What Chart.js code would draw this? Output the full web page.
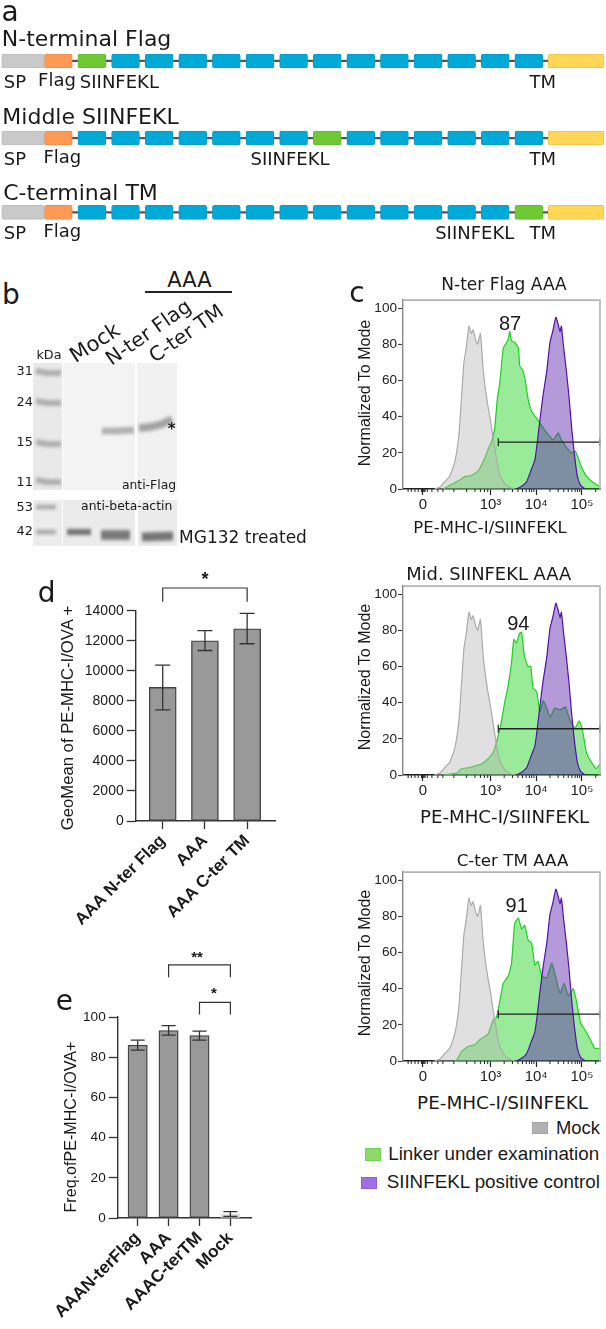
<!DOCTYPE html>
<html>
<head>
<meta charset="utf-8">
<title>Linker constructs</title>
<script src="https://cdn.jsdelivr.net/npm/chart.js@4"></script>
<style>
  html, body { margin: 0; padding: 0; background: #fff; }
  #page { position: relative; width: 606px; height: 1329px; overflow: hidden; }
  #page canvas { position: absolute; }
  .txt { position: absolute; white-space: nowrap; line-height: 1; color: #1a1a1a; transform-origin: center; }
  .box { position: absolute; }
</style>
</head>
<body>
<div id="page"></div>
<script>
// ---- panel a: constructs, in units of one linker repeat
const rowTitles = ['N-terminal Flag', 'Middle SIINFEKL', 'C-terminal TM'];
const rowPositions = [0, 1.018, 2];
const siinfeklSlot = [0, 7, 13];
const linkerSlots = [0, 1, 2, 3, 4, 5, 6, 7, 8, 9, 10, 11, 12, 13];
const linkerLength = 0.83;
const spanSP = [-2.27, -1];
const spanFlag = [-1, -0.17];
const spanTM = [13.99, 15.65];

// ---- panel b: blot, lanes and bands in gel coordinates
const ladderBandY = [372, 402, 443, 481];
const ladderLowerBandY = [507, 532];
const flagBandN = [[102, 431], [115, 431], [134, 430]];
const flagBandC = [[139, 428], [150, 427], [162, 424], [172, 419]];
const actinMock = [[67, 532], [91, 532]];
const actinNter = [[101, 535], [130, 535]];
const actinCter = [[142, 537], [173, 536]];

// ---- panel c: histograms, x is display channel (3 = 10^3, 4 = 10^4, 5 = 10^5)
const flowTicks = [1.525, 3, 4, 5];
const flowTickLabels = ['0', '10\u00B3', '10\u2074', '10\u2075'];
const flowMinorTicks = [1.2, 1.27, 1.35, 1.42, 1.49, 1.51, 1.53, 1.55, 1.57, 1.62, 1.72, 1.85, 1.96, 2.2, 2.48, 2.66, 2.78, 2.87, 2.94,
  3.3, 3.48, 3.6, 3.7, 3.78, 3.85, 3.9, 3.95, 4.3, 4.48, 4.6, 4.7, 4.78, 4.85, 4.9, 4.95, 5.3];
const flowYTicks = [0, 20, 40, 60, 80, 100];

const mockX = [1.78, 1.89, 2.0, 2.11, 2.22, 2.31, 2.365, 2.42, 2.47, 2.53, 2.58, 2.62, 2.68, 2.72, 2.78, 2.84, 2.89, 2.95, 3.0, 3.06, 3.13, 3.2, 3.31, 3.42, 3.53];
const mockY = [0, 1, 4, 7, 15, 30, 50, 70, 78, 90, 86, 88, 82, 80, 86, 66, 55, 45, 38, 28, 17, 8, 3, 1, 0];

const controlX = [3.57, 3.68, 3.79, 3.88, 3.97, 4.02, 4.08, 4.15, 4.23, 4.3, 4.36, 4.43, 4.48, 4.52, 4.55, 4.6, 4.66, 4.72, 4.77, 4.83, 4.9, 4.97, 5.07];
const controlY = [0, 1.5, 4, 10, 16, 25, 38, 52, 65, 81, 87, 95, 91, 87, 90, 78, 65, 50, 35, 20, 7, 2, 0];

const linkerNterX = [1.96, 2.11, 2.22, 2.33, 2.44, 2.51, 2.62, 2.73, 2.84, 2.95, 3.02, 3.09, 3.15, 3.2, 3.28, 3.33, 3.39, 3.42, 3.46, 3.53, 3.61, 3.64, 3.7, 3.76, 3.82, 3.9, 4.01, 4.12, 4.23, 4.3, 4.37, 4.48, 4.55, 4.66, 4.77, 4.85, 4.92, 4.99, 5.1, 5.25, 5.38];
const linkerNterY = [0, 2, 3.5, 5, 7, 7, 8, 10, 15, 22, 26, 33, 50, 58, 78, 80, 83, 87, 82, 81, 78, 68, 66, 60, 50, 43, 39, 35, 31, 29, 27, 31, 27, 23, 20, 21, 17, 12, 7, 3.5, 1.5];

const linkerMidX = [1.96, 2.26, 2.36, 2.51, 2.66, 2.8, 2.95, 3.07, 3.15, 3.22, 3.31, 3.39, 3.46, 3.51, 3.57, 3.63, 3.68, 3.74, 3.82, 3.88, 3.93, 4.01, 4.08, 4.15, 4.23, 4.3, 4.41, 4.52, 4.64, 4.74, 4.85, 4.94, 5.01, 5.1, 5.21, 5.31, 5.39];
const linkerMidY = [0, 1, 3.5, 4, 5, 6, 9, 13, 20, 27, 40, 50, 62, 75, 73, 78, 79, 66, 60, 60, 48, 46, 35, 41, 37, 32, 37, 36, 37.5, 30, 26, 30, 25, 12, 7, 3.5, 6];

const linkerCterX = [2.22, 2.29, 2.36, 2.51, 2.66, 2.75, 2.84, 2.95, 3.02, 3.07, 3.13, 3.19, 3.28, 3.39, 3.46, 3.53, 3.61, 3.68, 3.75, 3.82, 3.9, 3.97, 4.04, 4.12, 4.23, 4.34, 4.41, 4.52, 4.61, 4.7, 4.81, 4.88, 4.97, 5.07, 5.18, 5.28, 5.38];
const linkerCterY = [0, 1.5, 5, 8, 9, 11.5, 13, 15, 20, 23, 24, 31, 43, 47, 54, 76, 79, 73, 75, 67, 65, 53, 55, 47, 46, 54, 48, 37.5, 43, 36, 40, 33, 21, 17, 12, 7, 7];

const gateX = [3.17, 5.39];
const gateLevels = [25.9, 25.6, 25.9];

// ---- panel d
const geoLabels = ['AAA N-ter Flag', 'AAA', 'AAA C-ter TM'];
const geoValues = [8900, 12000, 12800];
const geoLow = [7400, 11350, 11800];
const geoHigh = [10380, 12680, 13820];
const geoBracketX = [0, 0, 2, 2];
const geoBracketY = [14600, 15510, 15510, 14600];

// ---- panel e
const freqLabels = ['AAAN-terFlag', 'AAA', 'AAAC-terTM', 'Mock'];
const freqValues = [86, 93.3, 90.8, 2];
const freqLow = [83.5, 91, 88.5, 0.8];
const freqHigh = [88.5, 95.7, 93, 3.2];
const freqBracketLongX = [1, 1, 3, 3];
const freqBracketLongY = [119.8, 125.9, 125.9, 119.8];
const freqBracketShortX = [2, 2, 3, 3];
const freqBracketShortY = [101.3, 107.3, 107.3, 101.3];

const SANS = '"Liberation Sans", Arial, sans-serif';
const DEJAVU = '"DejaVu Sans", sans-serif';
const INK = '#333';
const page = document.getElementById('page');

Chart.defaults.animation = false;
Chart.defaults.responsive = false;
Chart.defaults.maintainAspectRatio = false;
Chart.defaults.plugins.legend.display = false;
Chart.defaults.plugins.tooltip.enabled = false;
Chart.defaults.events = [];

const zip = (xs, ys) => xs.map((x, i) => ({ x, y: ys[i] }));

// free text, placed by its centre
function label(text, cx, cy, size, opts = {}) {
  const el = document.createElement('div');
  el.className = 'txt';
  el.textContent = text;
  el.style.left = cx + 'px';
  el.style.top = cy + 'px';
  el.style.fontSize = size + 'px';
  el.style.fontFamily = opts.family || DEJAVU;
  if (opts.weight) el.style.fontWeight = opts.weight;
  el.style.transform = `translate(-50%, -50%) rotate(${opts.rot || 0}deg)`;
  page.appendChild(el);
}

function box(x, y, w, h, style) {
  const el = document.createElement('div');
  el.className = 'box';
  el.style.cssText = `left:${x}px;top:${y}px;width:${w}px;height:${h}px;${style}`;
  page.appendChild(el);
}

function addCanvas(x, y, w, h) {
  const c = document.createElement('canvas');
  c.width = w;
  c.height = h;
  c.style.left = x + 'px';
  c.style.top = y + 'px';
  page.appendChild(c);
  return c;
}

/* ---------- panel a ---------- */
const rowSpans = (pick) => rowPositions.map((y, r) => ({ x: pick(r), y }));
function blockDataset(data, color, border) {
  return { data, backgroundColor: color, borderColor: border, borderWidth: 1, borderRadius: 2, borderSkipped: false, barThickness: 14, grouped: false };
}
const linkerBlocks = [];
const siinfeklBlocks = [];
rowPositions.forEach((y, r) => {
  linkerSlots.forEach(s => {
    const item = { x: [s, s + linkerLength], y };
    (s === siinfeklSlot[r] ? siinfeklBlocks : linkerBlocks).push(item);
  });
});
new Chart(addCanvas(0, 0, 606, 260), {
  type: 'bar',
  data: {
    datasets: [
      blockDataset(rowSpans(() => spanSP), '#c9c9c9', '#bdbdbd'),
      blockDataset(rowSpans(() => spanFlag), '#ff9a55', '#ec8c4c'),
      blockDataset(linkerBlocks, '#00a9d6', '#0a9cc4'),
      blockDataset(siinfeklBlocks, '#6fc935', '#66b933'),
      blockDataset(rowSpans(() => spanTM), '#ffd655', '#e8c452'),
      { data: rowSpans(() => [spanFlag[1], spanTM[0]]), backgroundColor: '#555', barThickness: 1.6, grouped: false }
    ]
  },
  options: {
    indexAxis: 'y',
    layout: { autoPadding: false },
    scales: {
      x: { type: 'linear', min: -2.32, max: 15.71, display: false },
      y: { type: 'linear', min: -0.806, max: 2.63, reverse: true, display: false, offset: false }
    }
  }
});

label('a', 10, 12, 28);
label(rowTitles[0], 86.6, 39, 22);
label(rowTitles[1], 90.5, 117, 22);
label(rowTitles[2], 80.5, 193, 22);
[[82, 57, 119.4], [159, 62.4, 290], [233, 62.4, 474.7]].forEach(([y, flagX, siinX]) => {
  label('SP', 15, y, 18);
  label('Flag', flagX, y - 2, 18);
  label('SIINFEKL', siinX, y, 18);
  label('TM', 542.7, y, 18);
});

/* ---------- panel b ---------- */
box(33, 363, 29, 127, 'background:#e9e9e9');
box(63, 363, 72, 127, 'background:#f3f3f3');
box(137, 363, 40, 127, 'background:#f1f1f1');
box(33, 500, 29, 46, 'background:#ececec');
box(63, 500, 72, 46, 'background:#ebebeb');
box(137, 500, 40, 46, 'background:#ebebeb');

function bandDatasets(points, width, color) {
  const data = points.map(([x, y]) => ({ x, y }));
  return [
    { data, borderColor: color, borderWidth: width, pointRadius: 0, tension: 0.3, borderCapStyle: 'butt', order: 1 },
    { data, borderColor: color, borderWidth: width + 4, pointRadius: 0, tension: 0.3, borderCapStyle: 'butt', order: 2 }
  ];
}
const blotBands = [];
ladderBandY.forEach(y => blotBands.push(...bandDatasets([[36, y - 1], [48, y + 1], [61, y + 1]], 3, 'rgba(125,125,125,0.36)')));
ladderLowerBandY.forEach(y => blotBands.push(...bandDatasets([[36, y], [56, y]], 2, 'rgba(120,120,120,0.36)')));
blotBands.push(...bandDatasets(flagBandN, 4, 'rgba(125,125,125,0.36)'));
blotBands.push(...bandDatasets(flagBandC, 5, 'rgba(115,115,115,0.4)'));
blotBands.push(...bandDatasets(actinMock, 3, 'rgba(85,85,85,0.6)'));
blotBands.push(...bandDatasets(actinNter, 7, 'rgba(85,85,85,0.52)'));
blotBands.push(...bandDatasets(actinCter, 6, 'rgba(85,85,85,0.55)'));

const blotCanvas = addCanvas(30, 360, 150, 190);
blotCanvas.style.filter = 'blur(1.8px)';
new Chart(blotCanvas, {
  type: 'line',
  data: { datasets: blotBands },
  options: {
    layout: { autoPadding: false },
    scales: {
      x: { type: 'linear', min: 30, max: 180, display: false },
      y: { type: 'linear', min: 360, max: 550, reverse: true, display: false }
    }
  }
});
// white lane gaps stay clean over the blurred bands
box(62, 363, 1, 127, 'background:#fff');
box(135, 363, 2, 127, 'background:#fff');
box(135.5, 500, 2, 46, 'background:#fff');

label('b', 11, 295, 28);
label('AAA', 189.5, 280, 21);
box(145, 291, 87, 1.5, 'background:#222');
label('Mock', 95, 342.5, 21, { rot: -33 });
label('N-ter Flag', 148, 331.5, 20, { rot: -35 });
label('C-ter TM', 185.7, 333.3, 20, { rot: -35 });
label('kDa', 49, 355, 12.8);
[['31', 371], ['24', 401.7], ['15', 441.7], ['11', 481.7], ['53', 507], ['42', 530.7]].forEach(([t, y]) => label(t, 24.7, y, 12.8));
label('*', 171.7, 429, 15, { weight: 'bold' });
label('anti-Flag', 149, 485, 12.4);
label('anti-beta-actin', 126.7, 506, 12.4);
label('MG132 treated', 243, 536.7, 17);

/* ---------- panel c ---------- */
const flowPlugin = {
  id: 'flowFrame',
  afterDraw(chart) {
    const { ctx, chartArea: a, scales: { x } } = chart;
    ctx.save();
    ctx.strokeStyle = '#b4b4b4';
    ctx.lineWidth = 1.6;
    ctx.beginPath();
    ctx.moveTo(a.left, a.top);
    ctx.lineTo(a.right, a.top);
    ctx.lineTo(a.right, a.bottom);
    ctx.stroke();
    ctx.strokeStyle = '#222';
    ctx.lineWidth = 1;
    ctx.beginPath();
    flowMinorTicks.forEach(v => {
      const px = x.getPixelForValue(v);
      ctx.moveTo(px, a.bottom);
      ctx.lineTo(px, a.bottom + 3);
    });
    ctx.stroke();
    ctx.restore();
  }
};

function flowDataset(xs, ys, line, fill) {
  return { data: zip(xs, ys), borderColor: line, backgroundColor: fill, fill: 'origin', borderWidth: 1.2, pointRadius: 0, tension: 0.15 };
}

function flowPanel(top, greenX, greenY, gate) {
  const frameH = 198;
  const canvasTop = top - 6;
  new Chart(addCanvas(360, canvasTop, 246, frameH + 30), {
    type: 'line',
    data: {
      datasets: [
        { data: zip(gateX, [gate, gate]), borderColor: '#222', borderWidth: 1.4, pointStyle: 'line', pointRotation: 90, pointRadius: 4, pointBorderWidth: 1.2, pointBorderColor: '#222', fill: false, clip: false },
        flowDataset(controlX, controlY, '#4f12a8', 'rgba(95,40,175,0.47)'),
        flowDataset(mockX, mockY, '#ababab', 'rgba(180,180,180,0.42)'),
        flowDataset(greenX, greenY, '#1fcf1f', 'rgba(0,205,0,0.4)')
      ]
    },
    options: {
      layout: { autoPadding: false, padding: { top: 6, right: 6 } },
      scales: {
        x: {
          type: 'linear', min: 1.088, max: 5.394,
          afterBuildTicks: axis => { axis.ticks = flowTicks.map(value => ({ value })); },
          afterFit: s => { s.height = 30; },
          border: { color: '#222', width: 1.4 },
          grid: { drawOnChartArea: false, tickLength: 6, tickColor: '#222', tickWidth: 1.2 },
          ticks: {
            autoSkip: false, maxRotation: 0, padding: 1, color: '#222',
            font: { family: SANS, size: 15 },
            callback: (v, i) => flowTickLabels[i]
          }
        },
        y: {
          type: 'linear', min: 0, max: 104.4,
          afterBuildTicks: axis => { axis.ticks = flowYTicks.map(value => ({ value })); },
          afterFit: s => { s.width = 43; },
          border: { color: '#888', width: 1.4 },
          grid: { drawOnChartArea: false, tickLength: 5, tickColor: '#444', tickWidth: 1.2 },
          ticks: { padding: 1, color: '#222', font: { family: SANS, size: 13.6 } }
        }
      }
    },
    plugins: [flowPlugin]
  });
}

flowPanel(297, linkerNterX, linkerNterY, gateLevels[0]);
flowPanel(582.5, linkerMidX, linkerMidY, gateLevels[1]);
flowPanel(868.5, linkerCterX, linkerCterY, gateLevels[2]);

label('c', 357, 293, 28);
label('N-ter Flag AAA', 504, 284, 17);
label('Mid. SIINFEKL AAA', 488.7, 574, 17.9);
label('C-ter TM AAA', 512.5, 860, 16.7);
label('Normalized To Mode', 365, 392.5, 16, { rot: -90, family: SANS });
label('Normalized To Mode', 365, 677, 16, { rot: -90, family: SANS });
label('Normalized To Mode', 365, 962.6, 16, { rot: -90, family: SANS });
label('87', 510, 323, 20, { family: SANS });
label('94', 518.3, 623.3, 20, { family: SANS });
label('91', 516.7, 905, 20, { family: SANS });
label('PE-MHC-I/SIINFEKL', 490, 527.7, 16.5);
label('PE-MHC-I/SIINFEKL', 504.5, 816.7, 18.2);
label('PE-MHC-I/SIINFEKL', 502.5, 1102.7, 18.4);

box(532, 1122, 15.5, 12, 'background:#b2b2b2;border:1px solid #a5a5a5;box-sizing:border-box');
label('Mock', 578, 1128, 18.4, { family: SANS });
box(364.5, 1148, 16, 12.5, 'background:#8fd86a;border:1px solid #6fd35a;box-sizing:border-box');
label('Linker under examination', 493.7, 1154.3, 18.8, { family: SANS });
box(361, 1176.5, 16, 12.5, 'background:#a06fe8;border:1px solid #8f5fd8;box-sizing:border-box');
label('SIINFEKL positive control', 493.3, 1181.7, 18.8, { family: SANS });

/* ---------- panels d, e ---------- */
const errorBars = {
  id: 'errorBars',
  afterDatasetsDraw(chart, args, opts) {
    const { ctx, scales: { x, y } } = chart;
    ctx.save();
    ctx.strokeStyle = INK;
    ctx.lineWidth = 1.3;
    ctx.beginPath();
    opts.low.forEach((low, i) => {
      const px = x.getPixelForValue(i);
      const hi = y.getPixelForValue(opts.high[i]);
      const lo = y.getPixelForValue(low);
      ctx.moveTo(px, lo);
      ctx.lineTo(px, hi);
      ctx.moveTo(px - opts.cap, hi);
      ctx.lineTo(px + opts.cap, hi);
      ctx.moveTo(px - opts.cap, lo);
      ctx.lineTo(px + opts.cap, lo);
    });
    ctx.stroke();
    ctx.restore();
  }
};

function bracket(xs, ys) {
  return { type: 'line', data: zip(xs, ys), borderColor: INK, borderWidth: 1.2, pointRadius: 0, tension: 0, clip: false, fill: false };
}

function barPanel(o) {
  return new Chart(addCanvas(o.x, o.y, o.w, o.h), {
    type: 'bar',
    data: {
      datasets: [
        {
          data: o.values.map((v, i) => ({ x: i, y: v })),
          backgroundColor: o.fills,
          borderColor: o.borders,
          borderWidth: 1.4,
          barThickness: o.barWidth,
          borderSkipped: false
        },
        ...o.brackets
      ]
    },
    options: {
      layout: { autoPadding: false, padding: { top: o.padTop, right: o.padRight } },
      plugins: { errorBars: { low: o.low, high: o.high, cap: o.cap } },
      scales: {
        x: {
          type: 'linear', min: o.xMin, max: o.xMax, offset: false,
          afterBuildTicks: axis => { axis.ticks = o.labels.map((_, value) => ({ value })); },
          afterFit: s => { s.height = o.axisH; },
          border: { color: INK, width: 1.4 },
          grid: { offset: false, drawOnChartArea: false, tickLength: 8, tickColor: INK, tickWidth: 1.3 },
          ticks: {
            autoSkip: false, minRotation: 45, maxRotation: 45, padding: 2, color: '#1a1a1a',
            font: { family: SANS, size: o.labelSize, weight: 'bold' },
            callback: (v, i) => o.labels[i]
          }
        },
        y: {
          type: 'linear', min: 0, max: o.yMax,
          afterFit: s => { s.width = o.axisW; },
          border: { color: INK, width: 1.4 },
          grid: { drawOnChartArea: false, tickLength: 9, tickColor: INK, tickWidth: 1.3 },
          ticks: { stepSize: o.step, padding: 3, color: '#1a1a1a', font: { family: SANS, size: o.tickSize }, callback: v => String(v) }
        }
      }
    },
    plugins: [errorBars]
  });
}

barPanel({
  x: 50, y: 570, w: 240, h: 370, axisW: 85.7, axisH: 119, padTop: 40.7, padRight: 15,
  xMin: -0.64, xMax: 2.66, yMax: 14000, step: 2000, barWidth: 27, cap: 7.5, labelSize: 16.8, tickSize: 14,
  labels: geoLabels, values: geoValues, low: geoLow, high: geoHigh,
  fills: ['#999', '#999', '#999'], borders: ['#444', '#444', '#444'],
  brackets: [bracket(geoBracketX, geoBracketY)]
});
label('d', 46.7, 593, 28);
label('GeoMean of PE-MHC-I/OVA +', 68, 717.5, 16.7, { rot: -90, family: SANS });
label('*', 205, 579, 18, { family: SANS, weight: 'bold' });

barPanel({
  x: 20, y: 950, w: 250, h: 379, axisW: 97.7, axisH: 111, padTop: 67, padRight: 18.3,
  xMin: -0.647, xMax: 3.69, yMax: 100, step: 20, barWidth: 19.3, cap: 7, labelSize: 17.2, tickSize: 13.6,
  labels: freqLabels, values: freqValues, low: freqLow, high: freqHigh,
  fills: ['#999', '#999', '#999', '#dcdcdc'], borders: ['#444', '#444', '#444', '#dcdcdc'],
  brackets: [bracket(freqBracketLongX, freqBracketLongY), bracket(freqBracketShortX, freqBracketShortY)]
});
label('e', 64.3, 1000.7, 28);
label('Freq.ofPE-MHC-I/OVA+', 70, 1126.7, 16.1, { rot: -90, family: SANS });
label('**', 197, 956, 15, { family: SANS, weight: 'bold' });
label('*', 214, 992, 15, { family: SANS, weight: 'bold' });
</script>
</body>
</html>
